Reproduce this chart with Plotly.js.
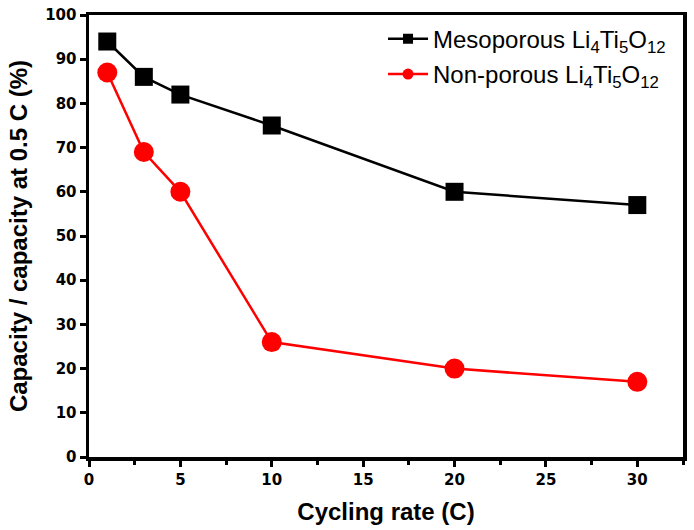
<!DOCTYPE html>
<html><head><meta charset="utf-8">
<script src="https://cdn.plot.ly/plotly-3.0.1.min.js"></script>
<style>body{margin:0;background:#fff}#g{width:694px;height:530px}</style>
</head><body><div id="g"></div>
<script>
const rates = [1, 3, 5, 10, 20, 30];
const mesoporous = [94, 86, 82, 75, 60, 57];
const nonporous = [87, 69, 60, 26, 20, 17];
const names = ['Mesoporous Li<sub>4</sub>Ti<sub>5</sub>O<sub>12</sub>', 'Non-porous Li<sub>4</sub>Ti<sub>5</sub>O<sub>12</sub>'];
const colors = ['#000000', '#ff0000'];
const symbols = ['square', 'circle'];

const traces = [
  {x: rates, y: mesoporous, name: names[0], mode: 'lines+markers', type: 'scatter', showlegend: false,
   line: {color: colors[0], width: 2.5}, marker: {symbol: symbols[0], size: 18, color: colors[0]}},
  {x: rates, y: nonporous, name: names[1], mode: 'lines+markers', type: 'scatter', showlegend: false,
   line: {color: colors[1], width: 2.5}, marker: {symbol: symbols[1], size: 20, color: colors[1]}},
  // legend entries (smaller symbols, as in the reference legend)
  {x: [null], y: [null], name: names[0], mode: 'lines+markers', type: 'scatter', legendgroup: 'a',
   line: {color: colors[0], width: 2.5}, marker: {symbol: symbols[0], size: 10, color: colors[0]}},
  {x: [null], y: [null], name: names[1], mode: 'lines+markers', type: 'scatter', legendgroup: 'b',
   line: {color: colors[1], width: 2.5}, marker: {symbol: symbols[1], size: 11, color: colors[1]}}
];
const tickFont = {family: 'DejaVu Sans, sans-serif', size: 15, color: '#000', weight: 'bold'};
const titleFont = {family: 'Liberation Sans, Arial, sans-serif', size: 24, color: '#000', weight: 'bold'};
const axisCommon = {showline: true, linecolor: '#000', linewidth: 3.5, mirror: true,
  ticks: 'outside', ticklen: 6, tickwidth: 3, tickcolor: '#000', showgrid: false, zeroline: false,
  tickfont: tickFont};
const layout = {
  width: 694, height: 530,
  margin: {l: 89, r: 11, t: 15, b: 73},
  paper_bgcolor: '#fff', plot_bgcolor: '#fff',
  showlegend: true,
  legend: {x: 0.495, y: 0.996, xanchor: 'left', yanchor: 'top', bgcolor: 'rgba(0,0,0,0)',
    traceorder: 'grouped', tracegroupgap: 1,
    font: {family: 'Liberation Sans, Arial, sans-serif', size: 24, color: '#000'}, itemwidth: 40},
  xaxis: Object.assign({}, axisCommon, {range: [0, 32.5], tick0: 0, dtick: 5,
    minor: {ticks: 'outside', ticklen: 4, tickwidth: 3, tickcolor: '#000', dtick: 2.5},
    title: {text: 'Cycling rate (C)', standoff: 16, font: titleFont}}),
  yaxis: Object.assign({}, axisCommon, {range: [0, 100], tick0: 0, dtick: 10,
    title: {text: 'Capacity / capacity at 0.5 C (%)', standoff: 12, font: titleFont}})
};
Plotly.newPlot('g', traces, layout, {displayModeBar: false, staticPlot: true});
</script></body></html>
